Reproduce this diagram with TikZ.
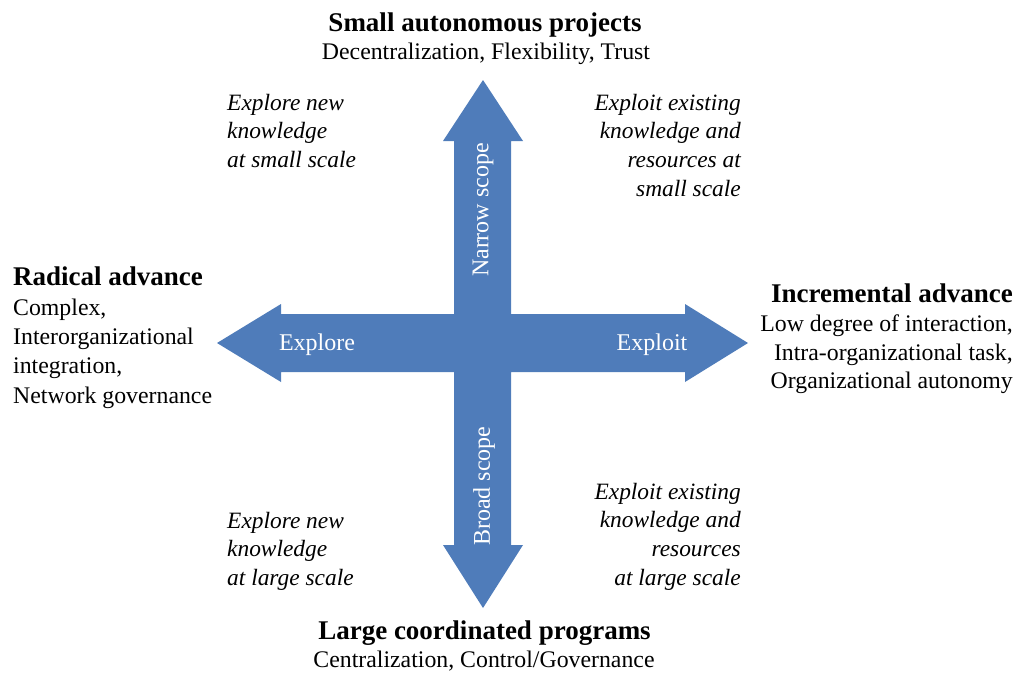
\documentclass[tikz,border=0pt]{standalone}
\usepackage{fontspec}
\setmainfont{Liberation Serif}
\begin{document}
\begin{tikzpicture}[x=1pt,y=-1pt,
  title/.style={font=\fontsize{27}{30}\selectfont\bfseries, inner sep=0pt},
  body/.style={font=\fontsize{23.8}{#1}\selectfont, inner sep=0pt},
  body/.default=29,
  quad/.style={font=\fontsize{23.4}{28.8}\selectfont\itshape, inner sep=0pt},
  arrowlabel/.style={font=\fontsize{24}{28}\selectfont, text=white, inner sep=0pt},
  bigarrow/.style={fill=axisblue, draw=none}]
\definecolor{axisblue}{HTML}{4F7CBA}
\path[use as bounding box] (0,0) rectangle (1017,675);

% four-headed cross of arrows
\path[bigarrow]
  (483,80) -- (523,141) -- (511,141) -- (511,314) -- (685,314) -- (685,304)
  -- (748,343) -- (685,382) -- (685,372) -- (511,372) -- (511,545) -- (523,545)
  -- (483,608) -- (443,545) -- (454,545) -- (454,372) -- (281,372) -- (281,382)
  -- (217,343) -- (281,304) -- (281,314) -- (454,314) -- (454,141) -- (443,141)
  -- cycle;

% labels on the arrows
\node[arrowlabel, anchor=base] (explore) at (317,350) {Explore};
\node[arrowlabel, anchor=base] (exploit) at (652,350) {Exploit};
\node[arrowlabel, rotate=90] (narrow) at (483,210) {Narrow scope};
\node[arrowlabel, rotate=90] (broad) at (484,486) {Broad scope};

% top pole
\node[title, anchor=base] (smallT) at (485,31.7) {Small autonomous projects};
\node[body, anchor=base] (smallB) at (486,59.3) {Decentralization, Flexibility, Trust};

% bottom pole
\node[title, anchor=base] (largeT) at (484.5,639) {Large coordinated programs};
\node[body, anchor=base] (largeB) at (484,667) {Centralization, Control/Governance};

% left pole (multi-line blocks are placed by their top; the strut fixes the first baseline)
\node[title, anchor=base west] (radT) at (13,285) {Radical advance};
\node[body=29.3, anchor=north west, align=left] (radB) at (13,294.5)
  {\strut Complex,\\Interorganizational\\integration,\\Network governance};

% right pole
\node[title, anchor=base east] (incT) at (1013,302) {Incremental advance};
\node[body=28.3, anchor=north east, align=right] (incB) at (1013,311.9)
  {\strut Low degree of interaction,\\Intra-organizational task,\\Organizational autonomy};

% quadrant descriptions
\node[quad, anchor=north west, align=left] (qTL) at (227,89.8)
  {\strut Explore new\\knowledge\\at small scale};
\node[quad, anchor=north east, align=right] (qTR) at (741,89.8)
  {\strut Exploit existing\\knowledge and\\resources at\\small scale};
\node[quad, anchor=north west, align=left] (qBL) at (227,507.8)
  {\strut Explore new\\knowledge\\at large scale};
\node[quad, anchor=north east, align=right] (qBR) at (741,478.8)
  {\strut Exploit existing\\knowledge and\\resources\\at large scale};
\end{tikzpicture}
\end{document}
